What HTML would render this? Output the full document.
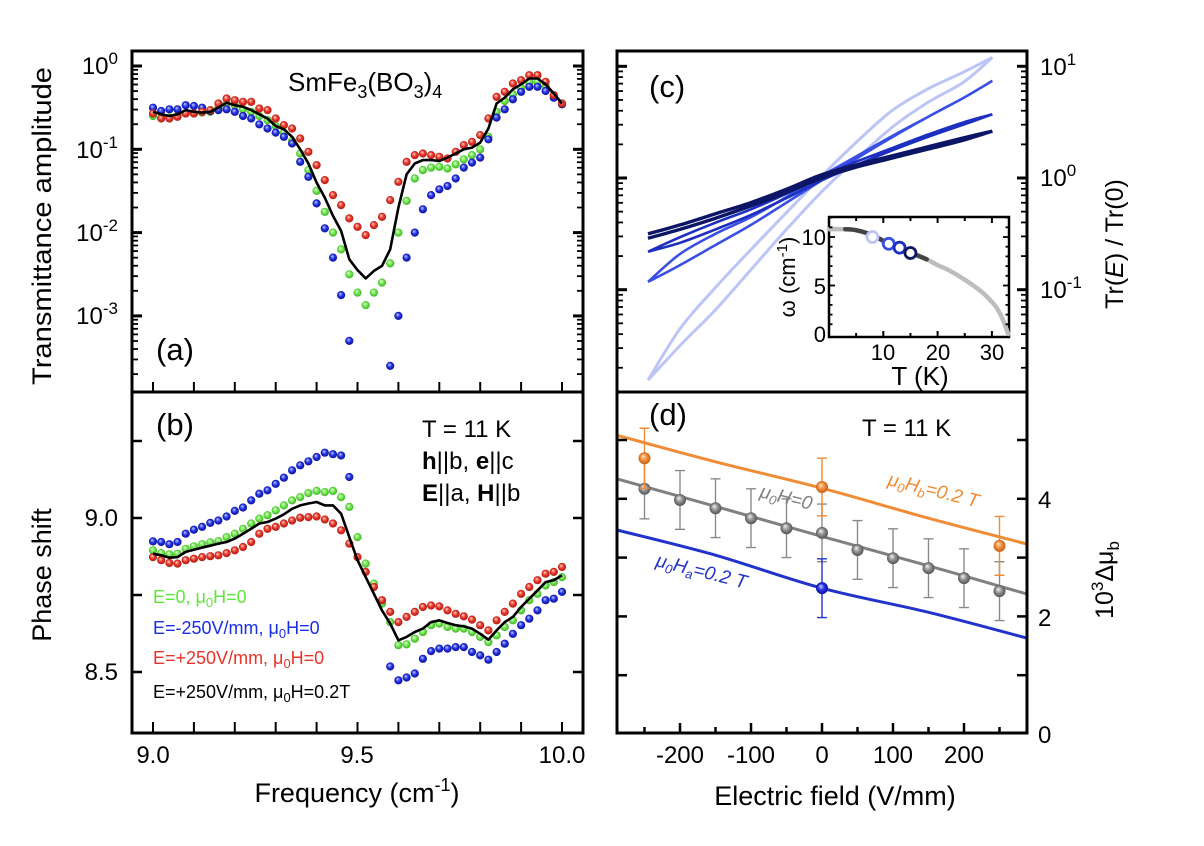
<!DOCTYPE html>
<html><head><meta charset="utf-8"><style>
html,body{margin:0;padding:0;background:#fff;}
svg{display:block;font-family:"Liberation Sans",Arial,sans-serif;}
</style></head><body>
<svg id="fig" width="1204" height="846" viewBox="0 0 1204 846" xmlns="http://www.w3.org/2000/svg">
<defs>
<radialGradient id="g-red" cx="0.5" cy="0.5" r="0.55" fx="0.38" fy="0.32"><stop offset="0" stop-color="#ffd8d0"/><stop offset="0.5" stop-color="#e8382a"/><stop offset="1" stop-color="#a51510"/></radialGradient>
<radialGradient id="g-green" cx="0.5" cy="0.5" r="0.55" fx="0.38" fy="0.32"><stop offset="0" stop-color="#e8ffe0"/><stop offset="0.5" stop-color="#6ee84c"/><stop offset="1" stop-color="#38a820"/></radialGradient>
<radialGradient id="g-blue" cx="0.5" cy="0.5" r="0.55" fx="0.38" fy="0.32"><stop offset="0" stop-color="#c8d0ff"/><stop offset="0.5" stop-color="#2232e4"/><stop offset="1" stop-color="#0c0c88"/></radialGradient>
<radialGradient id="g-gray" cx="0.5" cy="0.5" r="0.55" fx="0.38" fy="0.32"><stop offset="0" stop-color="#f4f4f4"/><stop offset="0.5" stop-color="#8e8e8e"/><stop offset="1" stop-color="#4a4a4a"/></radialGradient>
<radialGradient id="g-orange" cx="0.5" cy="0.5" r="0.55" fx="0.38" fy="0.32"><stop offset="0" stop-color="#ffe4c8"/><stop offset="0.5" stop-color="#f08c36"/><stop offset="1" stop-color="#c05810"/></radialGradient>
</defs>
<g id="marks-a"></g>
<g id="marks-b"></g>
<g id="marks-c"></g>
<g id="marks-d"></g>
<g id="ticks"></g>

<rect x="132" y="51" width="451" height="682" fill="none" stroke="#000" stroke-width="3"/>
<line x1="132" y1="392" x2="583" y2="392" stroke="#000" stroke-width="3"/>
<rect x="617" y="51" width="410" height="682" fill="none" stroke="#000" stroke-width="3"/>
<line x1="617" y1="392" x2="1027" y2="392" stroke="#000" stroke-width="3"/>
<rect x="829" y="217" width="180" height="120" fill="#fff" stroke="#000" stroke-width="2.5"/>
<g id="inset"></g>

<g font-size="24" fill="#000">
<text x="118" y="74" text-anchor="end">10<tspan dy="-10" font-size="17">0</tspan></text>
<text x="118" y="158" text-anchor="end">10<tspan dy="-10" font-size="17">-1</tspan></text>
<text x="118" y="241" text-anchor="end">10<tspan dy="-10" font-size="17">-2</tspan></text>
<text x="118" y="324" text-anchor="end">10<tspan dy="-10" font-size="17">-3</tspan></text>
<text x="118" y="526" text-anchor="end">9.0</text>
<text x="118" y="680" text-anchor="end">8.5</text>
<text x="153" y="763" text-anchor="middle">9.0</text>
<text x="357" y="763" text-anchor="middle">9.5</text>
<text x="562" y="763" text-anchor="middle">10.0</text>
<text x="1040" y="75">10<tspan dy="-10" font-size="17">1</tspan></text>
<text x="1040" y="186">10<tspan dy="-10" font-size="17">0</tspan></text>
<text x="1040" y="298">10<tspan dy="-10" font-size="17">-1</tspan></text>
<text x="1038" y="508">4</text>
<text x="1038" y="626">2</text>
<text x="1038" y="743">0</text>
<text x="680" y="763" text-anchor="middle">-200</text>
<text x="751" y="763" text-anchor="middle">-100</text>
<text x="822" y="763" text-anchor="middle">0</text>
<text x="893" y="763" text-anchor="middle">100</text>
<text x="964" y="763" text-anchor="middle">200</text>
</g>
<g font-size="27" fill="#000">
<text transform="translate(51,226) rotate(-90)" text-anchor="middle" textLength="318" lengthAdjust="spacingAndGlyphs">Transmittance amplitude</text>
<text transform="translate(51,575) rotate(-90)" text-anchor="middle">Phase shift</text>
<text x="357" y="802" text-anchor="middle">Frequency (cm<tspan dy="-11" font-size="18">-1</tspan><tspan dy="11">)</tspan></text>
<text x="835" y="805" text-anchor="middle">Electric field (V/mm)</text>
<text transform="translate(1123,244) rotate(-90)" text-anchor="middle" font-size="25">Tr(<tspan font-style="italic">E</tspan>) / Tr(0)</text>
<text transform="translate(1113,580) rotate(-90)" text-anchor="middle" font-size="25">10<tspan dy="-10" font-size="17">3</tspan><tspan dy="10">Δμ</tspan><tspan dy="6" font-size="17">b</tspan></text>
</g>
<text x="288" y="91" font-size="26">SmFe<tspan dy="7" font-size="18">3</tspan><tspan dy="-7">(BO</tspan><tspan dy="7" font-size="18">3</tspan><tspan dy="-7">)</tspan><tspan dy="7" font-size="18">4</tspan></text>
<text x="156" y="360" font-size="31">(a)</text>
<text x="156" y="435" font-size="31">(b)</text>
<text x="649" y="97" font-size="31">(c)</text>
<text x="649" y="425" font-size="31">(d)</text>
<text x="422" y="437" font-size="24">T = 11 K</text>
<text x="422" y="469" font-size="24"><tspan font-weight="bold">h</tspan>||b, <tspan font-weight="bold">e</tspan>||c</text>
<text x="422" y="501" font-size="24"><tspan font-weight="bold">E</tspan>||a, <tspan font-weight="bold">H</tspan>||b</text>
<text x="862" y="436" font-size="24">T = 11 K</text>
<g font-size="18">
<text x="153" y="603" fill="#5ee83a">E=0, μ<tspan dy="4" font-size="13">0</tspan><tspan dy="-4">H=0</tspan></text>
<text x="153" y="634" fill="#1a2ee8">E=-250V/mm, μ<tspan dy="4" font-size="13">0</tspan><tspan dy="-4">H=0</tspan></text>
<text x="153" y="664" fill="#e8342a">E=+250V/mm, μ<tspan dy="4" font-size="13">0</tspan><tspan dy="-4">H=0</tspan></text>
<text x="153" y="698" fill="#000">E=+250V/mm, μ<tspan dy="4" font-size="13">0</tspan><tspan dy="-4">H=0.2T</tspan></text>
</g>
<g font-size="19" font-style="italic">
<text transform="translate(759,497) rotate(14)" fill="#808080">μ<tspan dy="4" font-size="13">0</tspan><tspan dy="-4">H=0</tspan></text>
<text transform="translate(887,485) rotate(14)" fill="#f08c36">μ<tspan dy="4" font-size="13">0</tspan><tspan dy="-4">H</tspan><tspan dy="4" font-size="13">b</tspan><tspan dy="-4">=0.2 T</tspan></text>
<text transform="translate(655,566) rotate(14)" fill="#2233cc">μ<tspan dy="4" font-size="13">0</tspan><tspan dy="-4">H</tspan><tspan dy="4" font-size="13">a</tspan><tspan dy="-4">=0.2 T</tspan></text>
</g>
<g font-size="22">
<text x="826" y="245" text-anchor="end">10</text>
<text x="826" y="294" text-anchor="end">5</text>
<text x="826" y="342" text-anchor="end">0</text>
<text x="883" y="360" text-anchor="middle">10</text>
<text x="938" y="360" text-anchor="middle">20</text>
<text x="992" y="360" text-anchor="middle">30</text>
<text transform="translate(795,277) rotate(-90)" text-anchor="middle">ω (cm<tspan dy="-8" font-size="15">-1</tspan><tspan dy="8">)</tspan></text>
<text x="920" y="385" text-anchor="middle" font-size="26">T (K)</text>
</g>
</svg>
<script>
const freqs = [9.00,9.02,9.04,9.06,9.08,9.10,9.12,9.14,9.16,9.18,9.20,9.22,9.24,9.26,9.28,9.30,9.32,9.34,9.36,9.38,9.40,9.42,9.44,9.46,9.48,9.50,9.52,9.54,9.56,9.58,9.60,9.62,9.64,9.66,9.68,9.70,9.72,9.74,9.76,9.78,9.80,9.82,9.84,9.86,9.88,9.90,9.92,9.94,9.96,9.98,10.00];
const ampRed = [-0.57,-0.63,-0.63,-0.61,-0.57,-0.57,-0.55,-0.53,-0.45,-0.39,-0.41,-0.43,-0.43,-0.51,-0.53,-0.63,-0.71,-0.75,-0.87,-1.03,-1.19,-1.37,-1.55,-1.67,-1.83,-1.93,-2.03,-1.91,-1.81,-1.61,-1.39,-1.15,-1.07,-1.05,-1.07,-1.09,-1.11,-1.03,-0.95,-0.91,-0.83,-0.63,-0.37,-0.31,-0.21,-0.17,-0.11,-0.11,-0.19,-0.35,-0.45];
const ampGreen = [-0.60,-0.62,-0.62,-0.60,-0.57,-0.57,-0.56,-0.55,-0.50,-0.45,-0.47,-0.52,-0.55,-0.60,-0.65,-0.72,-0.80,-0.90,-1.05,-1.25,-1.50,-1.75,-2.00,-2.20,-2.50,-2.72,-2.87,-2.72,-2.60,-2.37,-2.00,-1.62,-1.35,-1.25,-1.22,-1.21,-1.23,-1.18,-1.12,-1.07,-1.00,-0.85,-0.55,-0.42,-0.34,-0.26,-0.20,-0.19,-0.24,-0.35,-0.45];
const ampBlue = [-0.50,-0.54,-0.52,-0.52,-0.47,-0.48,-0.50,-0.54,-0.53,-0.52,-0.55,-0.60,-0.63,-0.70,-0.75,-0.80,-0.85,-0.93,-1.15,-1.33,-1.65,-1.95,-2.30,-2.75,-3.30,null,null,null,null,-3.60,-3.00,-2.30,-2.00,-1.72,-1.55,-1.48,-1.44,-1.35,-1.22,-1.16,-1.10,-0.88,-0.62,-0.52,-0.40,-0.31,-0.25,-0.25,-0.30,-0.38,-0.46];
const ampBlack = [-0.55,-0.58,-0.60,-0.58,-0.53,-0.55,-0.56,-0.55,-0.50,-0.44,-0.47,-0.49,-0.53,-0.58,-0.63,-0.72,-0.76,-0.85,-1.00,-1.17,-1.40,-1.58,-1.80,-1.98,-2.32,-2.45,-2.55,-2.46,-2.40,-2.20,-1.70,-1.30,-1.17,-1.13,-1.13,-1.14,-1.10,-1.05,-1.00,-0.98,-0.92,-0.75,-0.45,-0.38,-0.28,-0.22,-0.15,-0.15,-0.22,-0.33,-0.45];
const phBlue = [8.924,8.922,8.915,8.922,8.949,8.962,8.971,8.984,8.992,9.005,9.023,9.034,9.057,9.079,9.090,9.111,9.131,9.155,9.171,9.184,9.198,9.212,9.207,9.203,9.133,null,null,null,null,8.518,8.473,8.482,8.495,8.543,8.568,8.576,8.576,8.581,8.581,8.565,8.554,8.540,8.565,8.592,8.624,8.652,8.673,8.700,8.733,8.738,8.760];
const phGreen = [8.895,8.886,8.882,8.884,8.900,8.908,8.915,8.921,8.925,8.938,8.949,8.965,8.982,8.998,9.009,9.025,9.041,9.057,9.068,9.081,9.088,9.084,9.088,9.068,9.036,8.938,8.852,8.787,8.722,8.662,8.587,8.590,8.608,8.630,8.652,8.657,8.646,8.641,8.641,8.630,8.614,8.597,8.619,8.646,8.668,8.700,8.733,8.754,8.781,8.792,8.808];
const phRed = [8.873,8.863,8.854,8.852,8.863,8.868,8.873,8.876,8.879,8.886,8.895,8.906,8.922,8.949,8.965,8.971,8.982,8.992,9.001,9.003,9.005,8.995,8.982,8.960,8.917,8.873,8.825,8.776,8.733,8.695,8.662,8.679,8.695,8.711,8.716,8.713,8.700,8.689,8.681,8.670,8.652,8.635,8.668,8.695,8.722,8.754,8.776,8.798,8.819,8.825,8.841];
const phBlack = [8.884,8.879,8.871,8.873,8.890,8.897,8.904,8.910,8.917,8.922,8.933,8.949,8.965,8.982,8.987,8.998,9.012,9.030,9.041,9.047,9.052,9.041,9.041,9.014,8.938,8.863,8.808,8.754,8.700,8.657,8.603,8.614,8.630,8.641,8.662,8.668,8.659,8.652,8.648,8.641,8.624,8.605,8.635,8.662,8.679,8.711,8.738,8.765,8.792,8.798,8.814];

const cField = [-245,-200,-150,-100,-50,0,50,100,150,200,240];
const cLight1 = [-1.81,-1.50,-1.18,-0.82,-0.46,-0.12,0.18,0.46,0.68,0.86,1.08];
const cLight2 = [-1.81,-1.35,-0.98,-0.64,-0.31,0.02,0.33,0.61,0.80,0.95,1.08];
const cMid1 = [-0.93,-0.78,-0.60,-0.42,-0.22,-0.02,0.18,0.37,0.55,0.72,0.87];
const cMid2 = [-0.93,-0.68,-0.50,-0.35,-0.17,0.02,0.20,0.38,0.55,0.72,0.87];
const cRoyal1 = [-0.66,-0.58,-0.46,-0.33,-0.18,-0.02,0.12,0.25,0.37,0.48,0.57];
const cRoyal2 = [-0.66,-0.53,-0.40,-0.28,-0.14,0.02,0.15,0.27,0.39,0.50,0.57];
const cNavy1 = [-0.54,-0.46,-0.36,-0.25,-0.13,0.00,0.10,0.18,0.26,0.34,0.42];
const cNavy2 = [-0.50,-0.42,-0.32,-0.22,-0.10,0.03,0.12,0.20,0.28,0.36,0.42];
const insetT = [0,3,5,8,10,12,15,18,20,22,25,28,30,31,32,33];
const insetW = [10.8,10.8,10.7,10.2,9.6,9.1,8.4,7.7,7.1,6.6,5.6,4.4,3.3,2.6,1.5,0.0];
const circT = [8,11,13,15];
const circW = [10.0,9.3,8.9,8.35];

const dField = [-250,-200,-150,-100,-50,0,50,100,150,200,250];
const dGray = [4.17,3.98,3.84,3.67,3.50,3.42,3.13,2.99,2.82,2.65,2.43];
const dGrayErr = [0.51,0.50,0.50,0.50,0.50,0.49,0.50,0.50,0.50,0.50,0.50];
const dOrangeField = [-250,0,250];
const dOrange = [4.69,4.20,3.20];
const dOrangeErr = [0.51,0.49,0.50];
const dBlueField = [0];
const dBlue = [2.48];
const dBlueErr = [0.50];
const lineField = [-289,-150,0,150,289];
const lineGray = [4.34,3.87,3.36,2.86,2.38];
const lineOrange = [5.08,4.63,4.18,3.67,3.23];
const lineBlue = [3.47,3.04,2.48,2.07,1.63];

const xA = f => 153 + 409 * (f - 9);
const yA = lg => 66 - 83.3 * lg;
const yB = v => 518 - 308 * (v - 9);
const xC = e => 822 + 0.71 * e;
const yC = lg => 178 - 111.7 * lg;
const yD = v => 734 - 58.8 * v;
const xI = t => 829 + 5.43 * t;
const yI = w => 334 - 9.7 * w;

const NS = 'http://www.w3.org/2000/svg';
function mk(tag, attrs, parent) {
  const el = document.createElementNS(NS, tag);
  for (const k in attrs) el.setAttribute(k, attrs[k]);
  parent.appendChild(el);
  return el;
}
function smooth(pts) {
  let d = 'M' + pts[0][0].toFixed(1) + ',' + pts[0][1].toFixed(1);
  for (let i = 0; i < pts.length - 1; i++) {
    const p0 = pts[i - 1] || pts[i], p1 = pts[i], p2 = pts[i + 1], p3 = pts[i + 2] || p2;
    const c1 = [p1[0] + (p2[0] - p0[0]) / 6, p1[1] + (p2[1] - p0[1]) / 6];
    const c2 = [p2[0] - (p3[0] - p1[0]) / 6, p2[1] - (p3[1] - p1[1]) / 6];
    d += 'C' + c1.map(v => v.toFixed(1)).join(',') + ' ' + c2.map(v => v.toFixed(1)).join(',') + ' ' + p2.map(v => v.toFixed(1)).join(',');
  }
  return d;
}

const gA = document.getElementById('marks-a');
const gB = document.getElementById('marks-b');
const gC = document.getElementById('marks-c');
const gD = document.getElementById('marks-d');
const gT = document.getElementById('ticks');
const gI = document.getElementById('inset');

function dots(parent, xs, vals, xf, yf, grad, name) {
  const g = mk('g', {}, parent);
  
  
  for (let i = 0; i < xs.length; i++) {
    if (vals[i] === null) continue;
    const c = mk('circle', { cx: xf(xs[i]).toFixed(1), cy: yf(vals[i]).toFixed(1), r: 4.1, fill: 'url(#' + grad + ')' }, g);
    
    
  }
}
function polyline(parent, xs, vals, xf, yf, color, w, name) {
  const pts = [];
  for (let i = 0; i < xs.length; i++) if (vals[i] !== null) pts.push(xf(xs[i]).toFixed(1) + ',' + yf(vals[i]).toFixed(1));
  const p = mk('polyline', { points: pts.join(' '), fill: 'none', stroke: color, 'stroke-width': w, 'stroke-linejoin': 'round' }, parent);
  
  
}
dots(gA, freqs, ampGreen, xA, yA, 'g-green', 'amp-series-e0');
dots(gA, freqs, ampBlue, xA, yA, 'g-blue', 'amp-series-e-minus250');
dots(gA, freqs, ampRed, xA, yA, 'g-red', 'amp-series-e-plus250');
polyline(gA, freqs, ampBlack, xA, yA, '#000', 2.6, 'amp-line-h0.2');
dots(gB, freqs, phGreen, xA, yB, 'g-green', 'phase-series-e0');
dots(gB, freqs, phBlue, xA, yB, 'g-blue', 'phase-series-e-minus250');
dots(gB, freqs, phRed, xA, yB, 'g-red', 'phase-series-e-plus250');
polyline(gB, freqs, phBlack, xA, yB, '#000', 2.6, 'phase-line-h0.2');

function loop(b1, b2, color, w, name) {
  const p1 = cField.map((e, i) => [xC(e), yC(b1[i])]);
  const p2 = cField.map((e, i) => [xC(e), yC(b2[i])]);
  const p = mk('path', { d: smooth(p1) + ' ' + smooth(p2.slice().reverse()), fill: 'none', stroke: color, 'stroke-width': w, 'stroke-linejoin': 'round' }, gC);
  
  
}
loop(cLight1, cLight2, '#bcc5f5', 3, 'hysteresis-loop-8k');
loop(cMid1, cMid2, '#3a4fe4', 2.6, 'hysteresis-loop-11k');
loop(cRoyal1, cRoyal2, '#1d2fc0', 2.6, 'hysteresis-loop-13k');
loop(cNavy1, cNavy2, '#0d1566', 3.4, 'hysteresis-loop-15k');

const allPts = insetT.map((t, i) => [xI(t), yI(insetW[i])]);
const grayCurve = mk('path', { d: smooth(allPts), fill: 'none', stroke: '#bdbdbd', 'stroke-width': 4.5, 'stroke-linecap': 'round' }, gI);


const darkPts = [];
for (let i = 0; i < insetT.length; i++) if (insetT[i] >= 3 && insetT[i] <= 18) darkPts.push([xI(insetT[i]), yI(insetW[i])]);
const darkCurve = mk('path', { d: smooth(darkPts), fill: 'none', stroke: '#444', 'stroke-width': 4.5, 'stroke-linecap': 'round' }, gI);


const circColors = ['#bcc5f5', '#3a4fe4', '#1d2fc0', '#0d1566'];
for (let i = 0; i < circT.length; i++) {
  const c = mk('circle', { cx: xI(circT[i]), cy: yI(circW[i]), r: 5.5, fill: '#fff', stroke: circColors[i], 'stroke-width': 2.8 }, gI);
  
  
}
for (let t = 5; t <= 30; t += 5) {
  const L = t % 10 === 0 ? 6 : 4;
  mk('line', { x1: xI(t), x2: xI(t), y1: 337, y2: 337 - L, stroke: '#000', 'stroke-width': 2 }, gI);
  mk('line', { x1: xI(t), x2: xI(t), y1: 217, y2: 217 + L, stroke: '#000', 'stroke-width': 2 }, gI);
}
for (let w = 1; w <= 12; w += 1) {
  const L = w % 5 === 0 ? 6 : 3.5;
  mk('line', { x1: 829, x2: 829 + L, y1: yI(w), y2: yI(w), stroke: '#000', 'stroke-width': 1.8 }, gI);
  mk('line', { x1: 1009, x2: 1009 - L, y1: yI(w), y2: yI(w), stroke: '#000', 'stroke-width': 1.8 }, gI);
}

function dLine(vals, color, name) {
  const p = mk('path', { d: smooth(lineField.map((e, i) => [xC(e), yD(vals[i])])), fill: 'none', stroke: color, 'stroke-width': 3 }, gD);
  
  
}
dLine(lineOrange, '#f08c36', 'model-line-hb');
dLine(lineGray, '#808080', 'model-line-h0');
dLine(lineBlue, '#2233cc', 'model-line-ha');
function errPts(xs, vals, errs, color, grad, name) {
  for (let i = 0; i < xs.length; i++) {
    const x = xC(xs[i]), y1 = yD(vals[i] + errs[i]), y2 = yD(vals[i] - errs[i]);
    const e = mk('path', { d: `M${x},${y1}V${y2}M${x - 5},${y1}H${x + 5}M${x - 5},${y2}H${x + 5}`, stroke: color, 'stroke-width': 1.4, fill: 'none' }, gD);
    
    
  }
  for (let i = 0; i < xs.length; i++) {
    const c = mk('circle', { cx: xC(xs[i]), cy: yD(vals[i]), r: 6, fill: 'url(#' + grad + ')' }, gD);
    
    
  }
}
errPts(dField, dGray, dGrayErr, '#8a8a8a', 'g-gray', 'mu-h0');
errPts(dOrangeField, dOrange, dOrangeErr, '#f08c36', 'g-orange', 'mu-hb');
errPts(dBlueField, dBlue, dBlueErr, '#2233cc', 'g-blue', 'mu-ha');

function tk(x1, y1, x2, y2, w) { mk('line', { x1, y1, x2, y2, stroke: '#000', 'stroke-width': w || 2 }, gT); }
for (let d = -4; d <= 0; d++) for (let m = 1; m <= 9; m++) {
  const lg = d + Math.log10(m);
  if (lg < -3.9 || lg > 0.17) continue;
  const L = m === 1 ? 10 : 6, y = yA(lg);
  tk(132, y, 132 + L, y, m === 1 ? 3 : 1.8); tk(583, y, 583 - L, y, m === 1 ? 3 : 1.8);
}
for (let d = -2; d <= 1; d++) for (let m = 1; m <= 9; m++) {
  const lg = d + Math.log10(m);
  if (lg < -1.9 || lg > 1.12) continue;
  const L = m === 1 ? 10 : 6, y = yC(lg);
  tk(617, y, 617 + L, y, m === 1 ? 3 : 1.8); tk(1027, y, 1027 - L, y, m === 1 ? 3 : 1.8);
}
for (let i = 0; i <= 10; i++) {
  const x = xA(9 + i * 0.1);
  tk(x, 392, x, 382, 2); tk(x, 733, x, 722, 2);
}
for (let v = 8.5; v <= 9.26; v += 0.25) {
  const y = yB(v);
  tk(132, y, 142, y, 2.5); tk(583, y, 573, y, 2.5);
}
for (let v = 1; v <= 5; v++) {
  const y = yD(v);
  tk(617, y, 627, y, 2.5); tk(1027, y, 1017, y, 2.5);
}
for (let e = -250; e <= 250; e += 50) {
  const x = xC(e), L = e % 100 === 0 ? 10 : 6;
  tk(x, 733, x, 733 - L, 2.5);
}
</script>
</body></html>
